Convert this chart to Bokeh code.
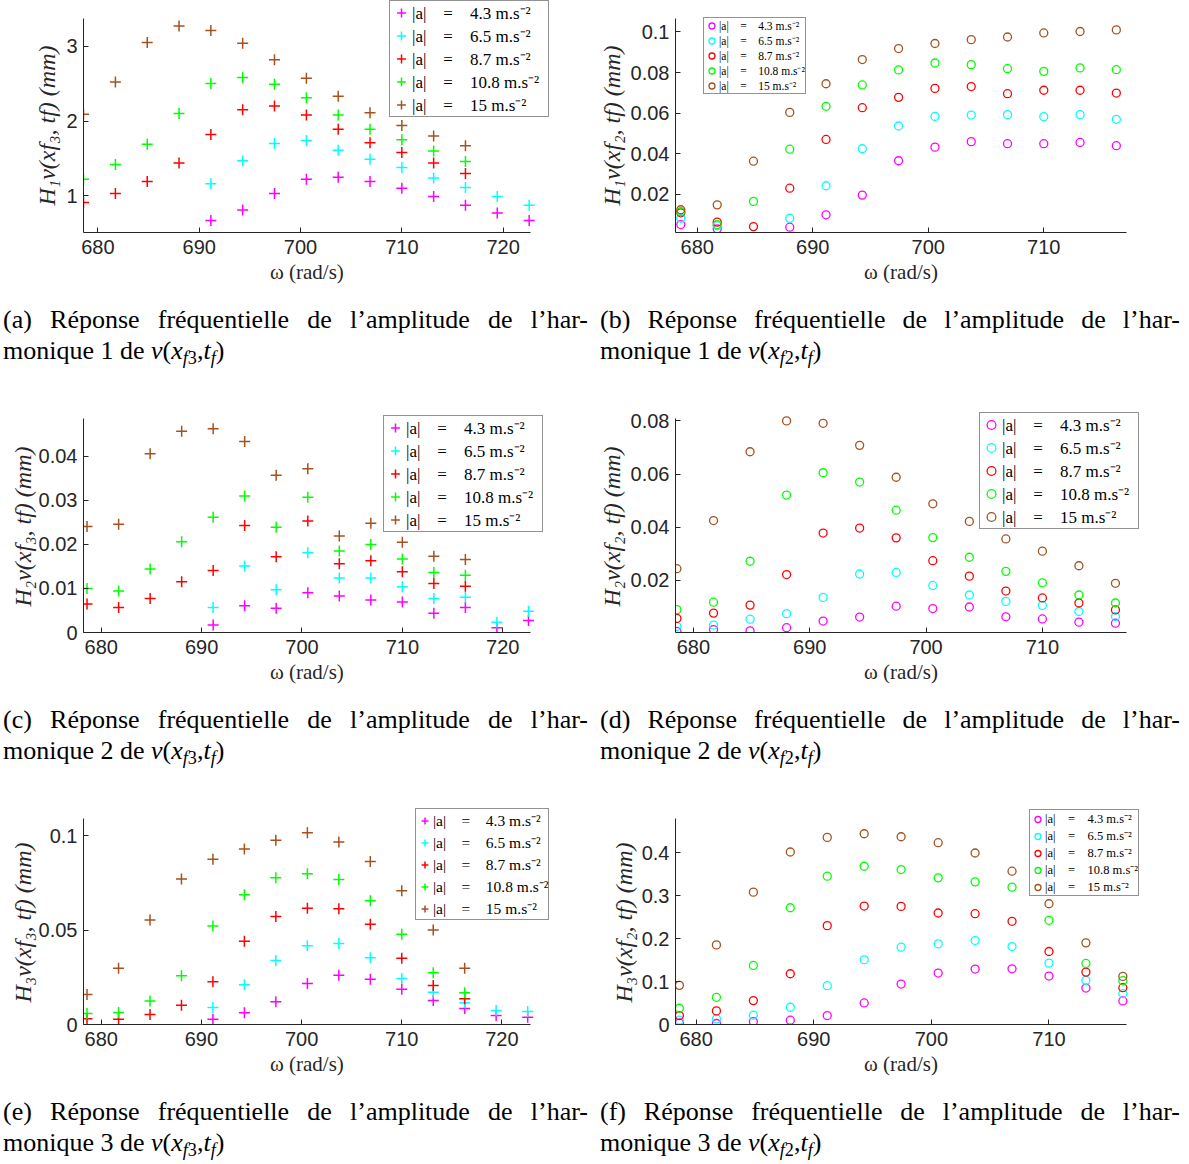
from bokeh.plotting import figure
from bokeh.models import Range1d, FixedTicker, Legend, LegendItem, Div
from bokeh.core.properties import value
from bokeh.layouts import column, row
from bokeh.embed import file_html
from bokeh.resources import INLINE

# ---------------- data ----------------
omega = [678.58, 681.73, 684.87, 688.01, 691.15, 694.29, 697.43, 700.58,
         703.72, 706.86, 710.00, 713.14, 716.28, 719.42, 722.57]
accel_levels = ["4.3", "6.5", "8.7", "10.8", "15"]
series_colors = ["#FF00FF", "#00FFFF", "#FF0000", "#00FF00", "#A5521E"]
N = None

# (a) harmonic 1 at x_f3
h1_xf3_a43 = [N, N, N, N, 0.67, 0.81, 1.03, 1.22, 1.25, 1.19, 1.10, 0.99, 0.875, 0.77, 0.67]
h1_xf3_a65 = [N, N, N, N, 1.16, 1.47, 1.70, 1.74, 1.61, 1.49, 1.38, 1.24, 1.11, 0.99, 0.875]
h1_xf3_a87 = [0.91, 1.03, 1.19, 1.44, 1.82, 2.15, 2.20, 2.08, 1.89, 1.71, 1.58, 1.44, 1.30, N, N]
h1_xf3_a108 = [1.22, 1.42, 1.69, 2.10, 2.50, 2.58, 2.49, 2.31, 2.08, 1.89, 1.75, 1.60, 1.46, N, N]
h1_xf3_a15 = [2.09, 2.52, 3.05, 3.27, 3.21, 3.04, 2.82, 2.57, 2.33, 2.11, 1.94, 1.80, 1.67, N, N]

# (b) harmonic 1 at x_f2
h1_xf2_a43 = [0.0052, 0.0031, N, 0.0039, 0.0100, 0.0197, 0.0366, 0.0433, 0.0460, 0.0450, 0.0450, 0.0456, 0.0440, N, N]
h1_xf2_a65 = [0.0083, 0.0047, N, 0.0083, 0.0243, 0.0425, 0.0537, 0.0584, 0.0591, 0.0593, 0.0583, 0.0593, 0.0570, N, N]
h1_xf2_a87 = [0.0110, 0.0064, 0.0042, 0.0231, 0.0471, 0.0627, 0.0678, 0.0722, 0.0731, 0.0696, 0.0713, 0.0713, 0.0699, N, N]
h1_xf2_a108 = [0.0115, 0.0052, 0.0166, 0.0423, 0.0634, 0.0739, 0.0813, 0.0847, 0.0839, 0.0819, 0.0806, 0.0823, 0.0814, N, N]
h1_xf2_a15 = [0.0125, 0.0149, 0.0364, 0.0604, 0.0745, 0.0864, 0.0918, 0.0943, 0.0962, 0.0975, 0.0995, 0.1002, 0.1010, N, N]

# (c) harmonic 2 at x_f3
h2_xf3_a43 = [N, N, N, N, 0.0017, 0.0061, 0.0055, 0.0090, 0.0083, 0.0074, 0.0069, 0.0044, 0.0057, 0.0011, 0.0027]
h2_xf3_a65 = [N, N, N, N, 0.0057, 0.0151, 0.0097, 0.0181, 0.0124, 0.0124, 0.0104, 0.0077, 0.0080, 0.0023, 0.0048]
h2_xf3_a87 = [0.0065, 0.0057, 0.0077, 0.0115, 0.0141, 0.0243, 0.0172, 0.0253, 0.0156, 0.0163, 0.0138, 0.0111, 0.0105, N, N]
h2_xf3_a108 = [0.0100, 0.0094, 0.0144, 0.0206, 0.0262, 0.0310, 0.0239, 0.0307, 0.0185, 0.0200, 0.0167, 0.0136, 0.0130, N, N]
h2_xf3_a15 = [0.0241, 0.0246, 0.0406, 0.0457, 0.0463, 0.0434, 0.0357, 0.0372, 0.0219, 0.0248, 0.0205, 0.0173, 0.0166, N, N]

# (d) harmonic 2 at x_f2
h2_xf2_a43 = [0.0008, 0.0015, 0.0010, 0.0022, 0.0047, 0.0062, 0.0103, 0.0094, 0.0100, 0.0063, 0.0055, 0.0043, 0.0039, N, N]
h2_xf2_a65 = [0.0027, 0.0032, 0.0054, 0.0075, 0.0136, 0.0224, 0.0230, 0.0181, 0.0145, 0.0121, 0.0106, 0.0083, 0.0064, N, N]
h2_xf2_a87 = [0.0057, 0.0077, 0.0107, 0.0222, 0.0378, 0.0397, 0.0360, 0.0274, 0.0216, 0.0160, 0.0134, 0.0115, 0.0089, N, N]
h2_xf2_a108 = [0.0090, 0.0118, 0.0272, 0.0521, 0.0605, 0.0570, 0.0464, 0.0361, 0.0287, 0.0234, 0.0191, 0.0145, 0.0115, N, N]
h2_xf2_a15 = [0.0244, 0.0425, 0.0684, 0.0800, 0.0791, 0.0708, 0.0588, 0.0488, 0.0422, 0.0356, 0.0310, 0.0255, 0.0189, N, N]

# (e) harmonic 3 at x_f3
h3_xf3_a43 = [N, N, N, N, 0.0028, 0.0062, 0.0120, 0.0217, 0.0261, 0.0240, 0.0186, 0.0127, 0.0085, 0.0048, 0.0039]
h3_xf3_a65 = [N, N, N, N, 0.0090, 0.0210, 0.0339, 0.0417, 0.0429, 0.0353, 0.0244, 0.0170, 0.0115, 0.0074, 0.0069]
h3_xf3_a87 = [0.0030, 0.0028, 0.0053, 0.0102, 0.0226, 0.0440, 0.0572, 0.0615, 0.0613, 0.0530, 0.0350, 0.0207, 0.0136, N, N]
h3_xf3_a108 = [0.0058, 0.0064, 0.0125, 0.0258, 0.0521, 0.0686, 0.0776, 0.0797, 0.0767, 0.0655, 0.0477, 0.0274, 0.0168, N, N]
h3_xf3_a15 = [0.0159, 0.0297, 0.0553, 0.0770, 0.0875, 0.0929, 0.0975, 0.1014, 0.0966, 0.0862, 0.0708, 0.0500, 0.0297, N, N]

# (f) harmonic 3 at x_f2
h3_xf2_a43 = [0.0039, 0.0023, 0.0069, 0.0100, 0.0208, 0.0502, 0.0942, 0.1197, 0.1290, 0.1297, 0.1127, 0.0849, 0.0548, N, N]
h3_xf2_a65 = [0.0100, 0.0131, 0.0216, 0.0402, 0.0903, 0.1506, 0.1799, 0.1876, 0.1954, 0.1815, 0.1429, 0.1027, 0.0718, N, N]
h3_xf2_a87 = [0.0208, 0.0317, 0.0556, 0.1181, 0.2301, 0.2757, 0.2749, 0.2595, 0.2579, 0.2402, 0.1699, 0.1220, 0.0857, N, N]
h3_xf2_a108 = [0.0378, 0.0633, 0.1375, 0.2718, 0.3452, 0.3683, 0.3606, 0.3413, 0.3320, 0.3197, 0.2425, 0.1421, 0.1019, N, N]
h3_xf2_a15 = [0.0911, 0.1853, 0.3081, 0.4015, 0.4355, 0.4440, 0.4370, 0.4232, 0.3992, 0.3568, 0.2811, 0.1900, 0.1120, N, N]

xticks_f3 = [680, 690, 700, 710, 720]
xticks_f2 = [680, 690, 700, 710]
yticks_a = [1, 2, 3]
yticks_b = [0.02, 0.04, 0.06, 0.08, 0.1]
yticks_c = [0, 0.01, 0.02, 0.03, 0.04]
yticks_d = [0.02, 0.04, 0.06, 0.08]
yticks_e = [0, 0.05, 0.1]
yticks_f = [0, 0.1, 0.2, 0.3, 0.4]

# ---------------- helpers ----------------
AX = "#262626"
SERIF = "Liberation Serif"
SUB = {"1": "\u2081", "2": "\u2082", "3": "\u2083"}
EN, NB, EM = "\u2002", "\u00a0", "\u2003"


def ylabel_text(k, fi, pad):
    # H_k v(x_{f fi}, t_f) (mm); trailing spaces re-centre the label on the axis extent
    return f"H{SUB[k]}v(xf{SUB[fi]}, tf) (mm)" + pad


def panel(canvas, box, frame_right, xr, yr, xticks, yticks, data, marker, xlab_pad,
          ylab, ylab_standoff, leg):
    """canvas = (left, top, right, bottom) page px of the figure; box = (L, T, R, B) of the axes."""
    cl, ct, cr, cb = canvas
    L, T, R, B = box
    x0, x1 = xr
    y0, y1 = yr
    x_end = x0 + (frame_right - L) / (R - L) * (x1 - x0)
    y_end = y0 + (B - ct) / (B - T) * (y1 - y0)
    p = figure(width=cr - cl, height=cb - ct, x_range=Range1d(x0, x_end), y_range=Range1d(y0, y_end),
               output_backend="svg", toolbar_location=None,
               min_border_left=L - cl, min_border_right=cr - frame_right,
               min_border_top=0, min_border_bottom=cb - B)
    p.grid.visible = False
    p.outline_line_color = None
    for ax in (p.xaxis[0], p.yaxis[0]):
        ax.axis_line_color = AX
        ax.axis_line_width = 1
        ax.major_tick_in = 5
        ax.major_tick_out = 0
        ax.major_tick_line_color = AX
        ax.minor_tick_line_color = None
        ax.major_label_text_font = "Liberation Sans"
        ax.major_label_text_font_size = "20px"
        ax.major_label_text_color = AX
        ax.axis_label_text_font = SERIF
        ax.axis_label_text_color = AX
    xa, ya = p.xaxis[0], p.yaxis[0]
    xa.bounds = (x0, x1)
    ya.bounds = (y0, y1)
    xa.ticker = FixedTicker(ticks=xticks)
    ya.ticker = FixedTicker(ticks=yticks)
    xa.major_label_overrides = {t: str(t) for t in xticks}
    ya.major_label_overrides = {t: str(t) for t in yticks}
    xa.major_label_standoff = 7
    ya.major_label_standoff = 6
    # labels are centred on the frame; trailing wide spaces re-centre them on the axis itself
    xa.axis_label = "ω (rad/s)" + xlab_pad
    xa.axis_label_text_font_size = "21px"
    xa.axis_label_text_font_style = "normal"
    xa.axis_label_standoff = 3
    ya.axis_label = ylab
    ya.axis_label_text_font_size = "24px"
    ya.axis_label_text_font_style = "italic"
    ya.axis_label_standoff = ylab_standoff

    items = []
    for vals, col, lev in zip(data, series_colors, accel_levels):
        xs = [x for x, y in zip(omega, vals) if y is not None]
        ys = [y for y in vals if y is not None]
        if marker == "cross":
            r = p.scatter(xs, ys, marker="cross", size=11, line_color=col, line_width=1.5)
        else:
            r = p.scatter(xs, ys, marker="circle", size=8, fill_color=None,
                          line_color=col, line_width=1.3)
        items.append(LegendItem(label=value(f"|a|{EM}={EM}{lev} m.s\u207b\u00b2" + leg["tail"]),
                                renderers=[r]))

    lg = Legend(items=items, location=(leg["vx"], leg["vy"]), margin=0,
                padding=0, spacing=0, glyph_width=leg["gw"],
                glyph_height=leg["gh"], label_height=leg["gh"], label_standoff=0,
                label_text_font=SERIF, label_text_font_size=f"{leg['fs']}px",
                label_text_color="black", border_line_color=AX, border_line_width=1,
                background_fill_color="white", background_fill_alpha=1.0)
    p.add_layout(lg, "center")
    return p


def caption(letter, k, fi, width, pad_left, text_w, height, pad_top):
    sub = '<sub style="font-size:70%;vertical-align:-0.28em;line-height:0">'
    html = (f'<div style="box-sizing:content-box;width:{text_w}px;padding-left:{pad_left}px;'
            f'padding-top:{pad_top}px;font-family:\'Liberation Serif\',serif;font-size:26px;'
            f'line-height:31px;color:#000;">'
            f'<div style="text-align:justify;text-align-last:justify;">({letter}) Réponse '
            f'fréquentielle de l’amplitude de l’har-</div>'
            f'<div>monique {k} de <i>v</i>(<i>x</i>{sub}<i>f</i>{fi}</sub>,<i>t</i>{sub}<i>f</i></sub>)</div>'
            f'</div>')
    return Div(text=html, width=width, height=height, margin=0)


# ---------------- panels ----------------
PAD_L = EM + NB   # frame extends 26 px past the left-column axes
PAD_R = EM        # frame extends 21 px past the right-column axes
YPAD_TOP = EN + NB   # first row: frame reaches 18 px above the axis top
YPAD = EN            # other rows: 10 px

pa = panel((0, 0, 590, 296), (83, 18, 530, 232), 556, (678.58, 722.7), (0.51, 3.37), xticks_f3, yticks_a,
           [h1_xf3_a43, h1_xf3_a65, h1_xf3_a87, h1_xf3_a108, h1_xf3_a15], "cross", PAD_L,
           ylabel_text("1", "3", YPAD_TOP), 3,
           dict(vx=306, vy=115, gw=22, gh=23, fs=17, tail=EN))
pb = panel((590, 0, 1189, 296), (675, 18, 1126, 232), 1147, (678.12, 717.16), (0.0013, 0.1066), xticks_f2, yticks_b,
           [h1_xf2_a43, h1_xf2_a65, h1_xf2_a87, h1_xf2_a108, h1_xf2_a15], "circle", PAD_R,
           ylabel_text("1", "2", YPAD_TOP), 3,
           dict(vx=28, vy=138, gw=15, gh=15, fs=11.5, tail=""))
pc = panel((0, 408, 590, 696), (83, 418, 530, 632), 556, (678.23, 722.77), (0.0, 0.0486), xticks_f3, yticks_c,
           [h2_xf3_a43, h2_xf3_a65, h2_xf3_a87, h2_xf3_a108, h2_xf3_a15], "cross", PAD_L,
           ylabel_text("2", "3", YPAD), 0,
           dict(vx=300, vy=100, gw=22, gh=23, fs=17, tail=EN))
pd = panel((590, 408, 1189, 696), (675, 418, 1126, 632), 1147, (678.46, 717.23), (0.0004, 0.0809), xticks_f2, yticks_d,
           [h2_xf2_a43, h2_xf2_a65, h2_xf2_a87, h2_xf2_a108, h2_xf2_a15], "circle", PAD_R,
           ylabel_text("2", "2", YPAD), 3,
           dict(vx=304, vy=103, gw=22, gh=23, fs=17, tail=EN))
pe = panel((0, 808, 590, 1088), (83, 818, 530, 1024), 556, (678.23, 722.85), (0.0, 0.109), xticks_f3, yticks_e,
           [h3_xf3_a43, h3_xf3_a65, h3_xf3_a87, h3_xf3_a108, h3_xf3_a15], "cross", PAD_L,
           ylabel_text("3", "3", YPAD), 0,
           dict(vx=332, vy=104, gw=17, gh=21, fs=15.5, tail=""))
pf = panel((590, 808, 1189, 1088), (675, 818, 1126, 1024), 1147, (678.25, 716.59), (0.0, 0.4795), xticks_f2, yticks_f,
           [h3_xf2_a43, h3_xf2_a65, h3_xf2_a87, h3_xf2_a108, h3_xf2_a15], "circle", PAD_R,
           ylabel_text("3", "2", YPAD), 2,
           dict(vx=354, vy=128, gw=15, gh=16, fs=12.5, tail=""))

ca = caption("a", 1, 3, 590, 3, 585, 112, 8)
cb = caption("b", 1, 2, 599, 10, 580, 112, 8)
cc = caption("c", 2, 3, 590, 3, 585, 112, 8)
cd = caption("d", 2, 2, 599, 10, 580, 112, 8)
ce = caption("e", 3, 3, 590, 3, 585, 72, 8)
cf = caption("f", 3, 2, 599, 10, 580, 72, 8)

layout = column(row(pa, pb), row(ca, cb),
                row(pc, pd), row(cc, cd),
                row(pe, pf), row(ce, cf))

open("out.html", "w").write(file_html(layout, INLINE, title="Réponses fréquentielles"))
